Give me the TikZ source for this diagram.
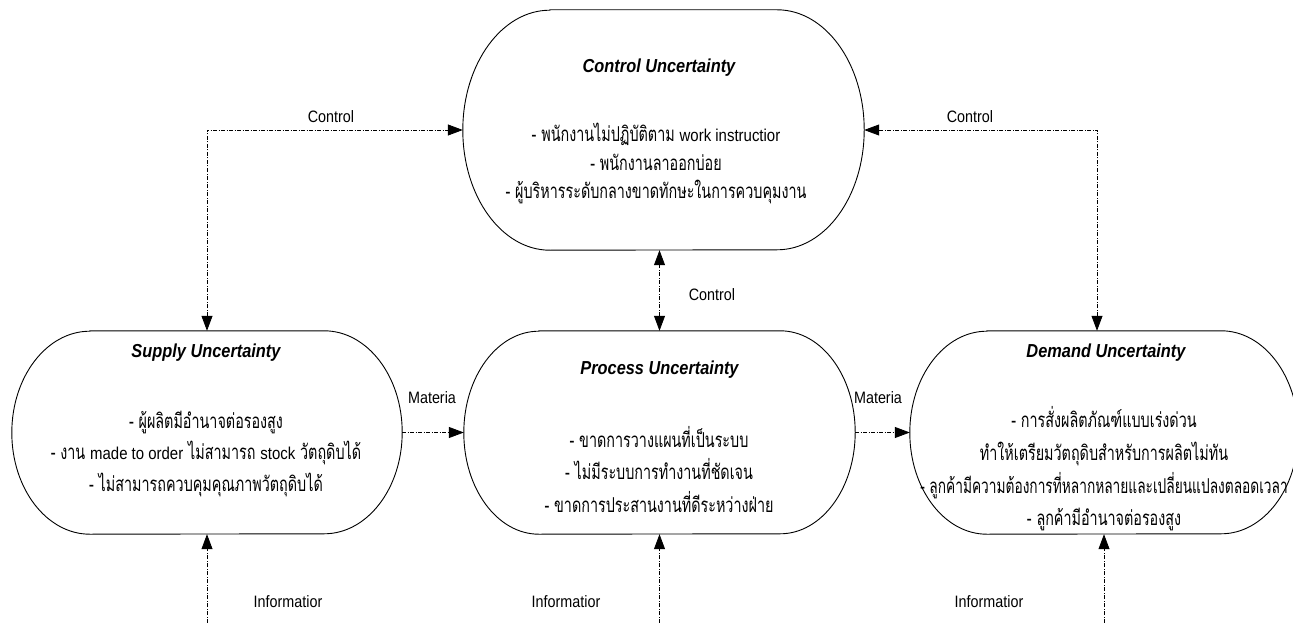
\documentclass[tikz,border=0pt]{standalone}
\usepackage{fontspec}
\usepackage{graphicx}
\setmainfont[FakeStretch=0.87]{Liberation Sans}
\newfontfamily\lat[FakeStretch=0.87]{Liberation Sans}
\newfontfamily\thai[Script=Thai,FakeStretch=0.7]{Loma}
\newcommand\latin[1]{{\fontsize{17.2}{18}\lat #1}}
\usetikzlibrary{arrows.meta}
\newcommand\stadiumoutline[3]{%
  \draw[outline] ([xshift=#2]#1.north west) -- ([xshift=-#2]#1.north east)
    arc[start angle=90,end angle=-90,x radius=#2,y radius=#3]
    -- ([xshift=#2]#1.south west)
    arc[start angle=270,end angle=90,x radius=#2,y radius=#3] -- cycle;}
\begin{document}
\begin{tikzpicture}[x=1pt,y=-1pt,
  shp/.style={rectangle,inner sep=0pt,draw=none},
  outline/.style={draw=black,line width=0.9pt},
  ttl/.style={font=\fontsize{18.8}{20}\lat\bfseries\itshape,inner sep=0pt},
  body/.style={font=\fontsize{20.5}{#1}\thai,align=center,inner sep=0pt},
  lbl/.style={font=\fontsize{16.5}{18}\lat,inner sep=0pt},
  flow/.style={draw=black,line width=0.8pt,dash pattern=on 4pt off 1.5pt on 1pt off 1.5pt},
  tip/.tip={Triangle[length=15pt,width=11pt]}
]
\useasboundingbox (0,0) rectangle (1293,623);
\fill[white] (0,0) rectangle (1293,623);

% shapes
\node[shp,minimum width=401pt,minimum height=240pt] (ctl) at (663.5,130) {};
\node[shp,minimum width=390pt,minimum height=203pt] (sup) at (207,432.5) {};
\node[shp,minimum width=391pt,minimum height=203pt] (proc) at (659.5,432.5) {};
\node[shp,minimum width=388pt,minimum height=203pt] (dem) at (1104,432.5) {};
\stadiumoutline{ctl}{87pt}{120pt}
\stadiumoutline{sup}{78pt}{101.5pt}
\stadiumoutline{proc}{75pt}{101.5pt}
\stadiumoutline{dem}{77pt}{101.5pt}

% titles
\node[ttl] (ctlT) at (659,68) {Control Uncertainty};
\node[ttl] (supT) at (206,353) {Supply Uncertainty};
\node[ttl] (procT) at (659.5,370) {Process Uncertainty};
\node[ttl] (demT) at (1106,353) {Demand Uncertainty};

% bodies
\node[body=28.5] (ctlB) at (656,163.5) {- พนักงานไม่ปฏิบัติตาม \latin{work instructior}\\- พนักงานลาออกบ่อย\\- ผู้บริหารระดับกลางขาดทักษะในการควบคุมงาน};
\node[body=31.5] (supB) at (206,453.5) {- ผู้ผลิตมีอำนาจต่อรองสูง\\- งาน \latin{made to order} ไม่สามารถ \latin{stock} วัตถุดิบได้\\- ไม่สามารถควบคุมคุณภาพวัตถุดิบได้};
\node[body=32.5] (procB) at (659,469.5) {- ขาดการวางแผนที่เป็นระบบ\\- ไม่มีระบบการทำงานที่ชัดเจน\\- ขาดการประสานงานที่ดีระหว่างฝ่าย};
\node[body=32.7] (demB) at (1104,469) {- การสั่งผลิตภัณฑ์แบบเร่งด่วน\\ทำให้เตรียมวัตถุดิบสำหรับการผลิตไม่ทัน\\\scalebox{0.955}[1]{- ลูกค้ามีความต้องการที่หลากหลายและเปลี่ยนแปลงตลอดเวลา}\\- ลูกค้ามีอำนาจต่อรองสูง};

% connectors
\coordinate (demTop) at ([xshift=-7pt]dem.north);
\draw[flow,tip-tip] (sup.north) |- (ctl.west);
\draw[flow,tip-tip] (demTop) |- (ctl.east);
\draw[flow,tip-tip] (proc.north) -- (proc.north |- ctl.south);
\draw[flow,-tip] (sup.east) -- (proc.west);
\draw[flow,-tip] (proc.east) -- (dem.west);
\coordinate (i1) at (207,623);
\coordinate (i2) at (659.5,623);
\coordinate (i3) at (1104,623);
\draw[flow,-tip] (i1) -- (sup.south);
\draw[flow,-tip] (i2) -- (proc.south);
\draw[flow,-tip] (i3) -- (dem.south);

% labels
\node[lbl] (lc1) at (331,117) {Control};
\node[lbl] (lc2) at (970,117) {Control};
\node[lbl] (lc3) at (712,295) {Control};
\node[lbl] (lm1) at (432,398) {Materia};
\node[lbl] (lm2) at (878,398) {Materia};
\node[lbl] (li1) at (288,602) {Informatior};
\node[lbl] (li2) at (566,602) {Informatior};
\node[lbl] (li3) at (989,602) {Informatior};
\end{tikzpicture}
\end{document}
